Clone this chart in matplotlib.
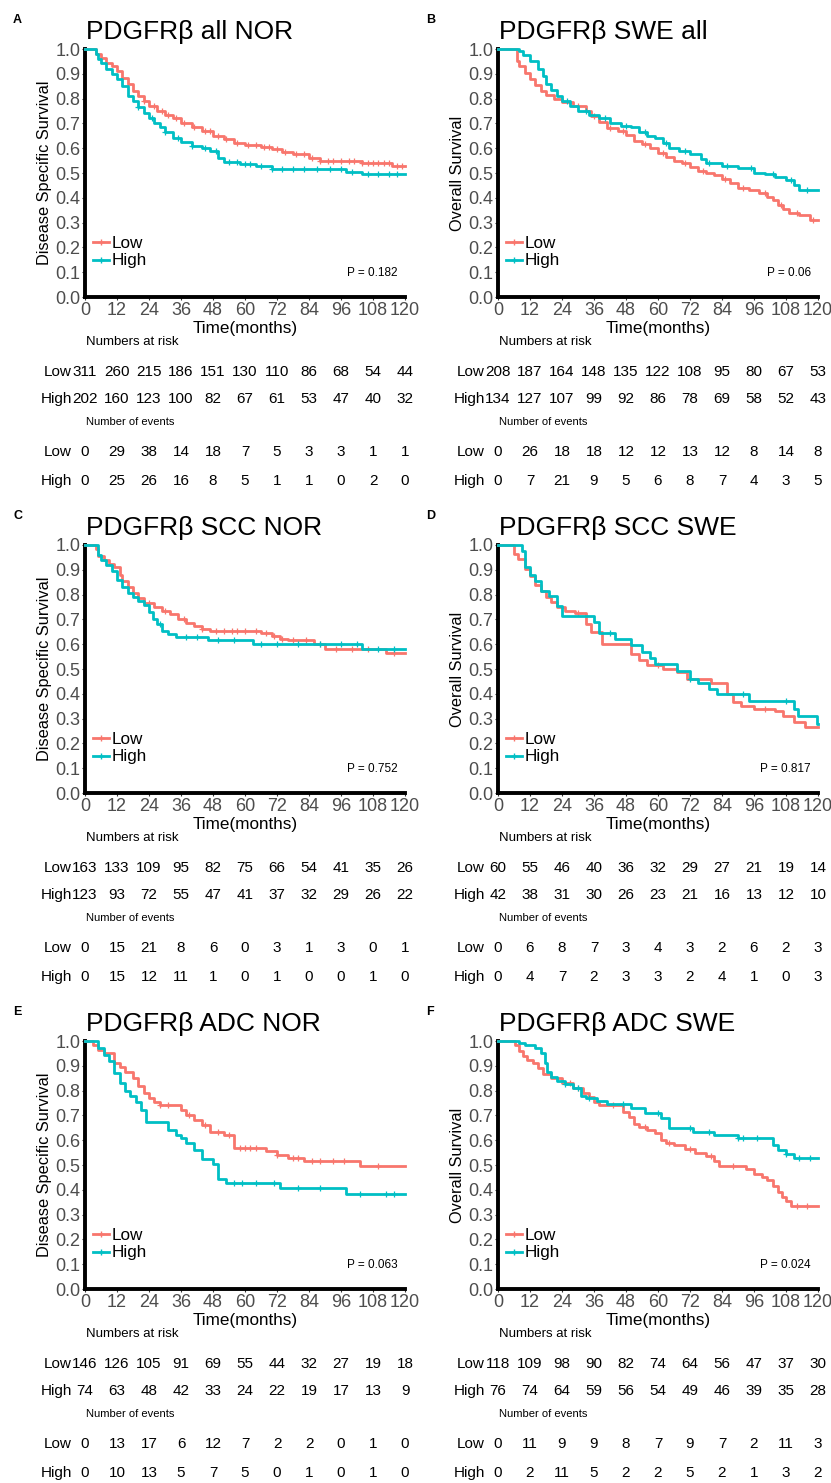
import numpy as np
import matplotlib.pyplot as plt
from matplotlib import transforms
from matplotlib.lines import Line2D

plt.rcParams['font.family'] = ['Liberation Sans', 'DejaVu Sans']

W, H = 831, 1483
RED = '#F8766D'
CYAN = '#00BFC4'

months = [0, 12, 24, 36, 48, 60, 72, 84, 96, 108, 120]

# ---- Panel A: PDGFRb all NOR ----
A_low_t = [0, 4, 6, 8, 10, 12, 14, 16, 18, 20, 22, 24, 27, 30, 33, 36, 40, 44, 48, 52, 56, 60, 66, 70, 74, 78, 84, 88, 96, 104, 115]
A_low_s = [1, .98, .965, .945, .93, .91, .885, .86, .83, .81, .79, .77, .75, .735, .72, .70, .685, .67, .65, .637, .622, .612, .605, .595, .585, .575, .562, .55, .547, .54, .528]
A_high_t = [0, 4, 5, 6, 8, 10, 12, 14, 16, 18, 20, 22, 24, 26, 28, 30, 33, 36, 40, 44, 47, 50, 52, 58, 64, 70, 98, 104]
A_high_s = [1, .98, .96, .945, .92, .90, .88, .85, .81, .79, .765, .74, .72, .70, .685, .665, .64, .625, .61, .60, .59, .56, .545, .535, .528, .515, .505, .495]
A_low_cens = [22, 26, 29, 31, 34, 37, 41, 45, 47, 50, 53, 57, 61, 64, 67, 69, 72, 75, 79, 82, 85, 88, 91, 93, 96, 99, 101, 104, 106, 108, 110, 112, 114, 117, 119]
A_high_cens = [20, 25, 30, 35, 40, 45, 49, 54, 57, 60, 62, 66, 70, 74, 78, 82, 87, 92, 96, 100, 106, 110, 114, 117]
A_risk_low = [311, 260, 215, 186, 151, 130, 110, 86, 68, 54, 44]
A_risk_high = [202, 160, 123, 100, 82, 67, 61, 53, 47, 40, 32]
A_ev_low = [0, 29, 38, 14, 18, 7, 5, 3, 3, 1, 1]
A_ev_high = [0, 25, 26, 16, 8, 5, 1, 1, 0, 2, 0]

# ---- Panel B: PDGFRb SWE all ----
B_low_t = [0, 7, 8, 10, 12, 14, 16, 18, 21, 24, 28, 33, 35, 38, 41, 45, 48, 51, 54, 57, 60, 63, 66, 69, 72, 75, 78, 81, 84, 87, 90, 94, 98, 101, 103, 105, 107, 109, 113, 117]
B_low_s = [1, .95, .93, .905, .88, .855, .83, .815, .80, .785, .77, .75, .73, .705, .68, .67, .655, .63, .615, .60, .58, .565, .55, .54, .525, .51, .50, .49, .475, .46, .44, .43, .42, .405, .39, .37, .355, .34, .33, .31]
B_high_t = [0, 8, 9.5, 12, 15, 17, 18, 20, 22, 24, 27, 30, 34, 38, 42, 46, 50, 53, 56, 59, 62, 64, 68, 72, 76, 78, 84, 90, 96, 100, 104, 108, 111, 113]
B_high_s = [1, .99, .975, .95, .92, .89, .86, .835, .81, .79, .77, .75, .735, .72, .70, .69, .685, .665, .65, .64, .62, .60, .59, .575, .555, .54, .53, .52, .50, .495, .485, .47, .45, .43]
B_low_cens = [30, 36, 42, 47, 55, 62, 70, 77, 85, 92, 100, 106, 112, 118]
B_high_cens = [26, 33, 40, 48, 55, 63, 70, 79, 86, 95, 103, 110, 116]
B_risk_low = [208, 187, 164, 148, 135, 122, 108, 95, 80, 67, 53]
B_risk_high = [134, 127, 107, 99, 92, 86, 78, 69, 58, 52, 43]
B_ev_low = [0, 26, 18, 18, 12, 12, 13, 12, 8, 14, 8]
B_ev_high = [0, 7, 21, 9, 5, 6, 8, 7, 4, 3, 5]

# ---- Panel C: PDGFRb SCC NOR ----
C_low_t = [0, 4, 5, 7, 9, 11, 13, 14, 16, 18, 20, 22, 26, 29, 32, 35, 38, 41, 44, 47, 66, 70, 73, 76, 86, 90, 113]
C_low_s = [1, .985, .955, .94, .925, .91, .88, .855, .83, .805, .785, .765, .75, .735, .72, .70, .685, .675, .66, .655, .645, .635, .62, .615, .60, .58, .565]
C_high_t = [0, 5, 6, 8, 10, 12, 14, 16, 18, 20, 22, 24, 25.5, 27, 29, 31, 34, 46, 63, 104]
C_high_s = [1, .96, .94, .92, .895, .86, .83, .805, .79, .775, .76, .73, .70, .68, .655, .64, .63, .615, .60, .58]
C_low_cens = [24, 30, 37, 44, 49, 52, 55, 57, 60, 64, 68, 71, 74, 78, 83, 88, 94, 100, 106, 116]
C_high_cens = [28, 38, 42, 50, 56, 66, 72, 80, 88, 96, 102, 110, 116]
C_risk_low = [163, 133, 109, 95, 82, 75, 66, 54, 41, 35, 26]
C_risk_high = [123, 93, 72, 55, 47, 41, 37, 32, 29, 26, 22]
C_ev_low = [0, 15, 21, 8, 6, 0, 3, 1, 3, 0, 1]
C_ev_high = [0, 15, 12, 11, 1, 0, 1, 0, 0, 1, 0]

# ---- Panel D: PDGFRb SCC SWE ----
D_low_t = [0, 6, 7.5, 10, 12, 14, 16, 18, 20, 22, 25, 29, 33, 35, 39, 50, 53, 56, 62, 67, 71, 80, 86, 88, 91, 96, 104, 107, 111, 115]
D_low_s = [1, .965, .945, .905, .875, .84, .815, .79, .77, .75, .735, .725, .68, .65, .60, .56, .535, .515, .50, .487, .46, .445, .40, .365, .35, .338, .33, .31, .285, .265]
D_high_t = [0, 9, 10, 12, 14, 16, 19, 22, 24, 36, 38, 44, 50, 54, 57, 59, 67, 72, 75, 79, 82, 94, 111, 112.5, 119.5]
D_high_s = [1, .975, .91, .88, .855, .815, .795, .755, .715, .69, .645, .62, .595, .57, .545, .52, .49, .46, .445, .42, .40, .37, .34, .31, .28]
D_low_cens = [30, 60, 100]
D_high_cens = [42, 72, 92, 108]
D_risk_low = [60, 55, 46, 40, 36, 32, 29, 27, 21, 19, 14]
D_risk_high = [42, 38, 31, 30, 26, 23, 21, 16, 13, 12, 10]
D_ev_low = [0, 6, 8, 7, 3, 4, 3, 2, 6, 2, 3]
D_ev_high = [0, 4, 7, 2, 3, 3, 2, 4, 1, 0, 3]

# ---- Panel E: PDGFRb ADC NOR ----
E_low_t = [0, 3, 5, 7, 11, 13, 15, 18, 20, 22, 24, 26, 28, 36, 38, 41, 44, 47, 52, 56, 68, 72, 76, 82, 103]
E_low_s = [1, .985, .965, .95, .91, .895, .875, .85, .82, .79, .77, .755, .742, .72, .70, .68, .66, .635, .62, .567, .555, .54, .527, .516, .494]
E_high_t = [0, 5, 7, 9, 11, 13, 15, 17, 19, 21, 23, 31, 34, 36, 38, 41, 44, 48, 50, 53, 73, 98]
E_high_s = [1, .97, .944, .92, .87, .83, .80, .78, .755, .72, .675, .64, .62, .61, .59, .56, .525, .505, .445, .426, .406, .382]
E_low_cens = [28, 31, 39, 45, 50, 54, 58, 60, 62, 64, 72, 78, 80, 85, 88, 93, 97, 110]
E_high_cens = [56, 59, 64, 71, 80, 88, 103, 113, 116]
E_risk_low = [146, 126, 105, 91, 69, 55, 44, 32, 27, 19, 18]
E_risk_high = [74, 63, 48, 42, 33, 24, 22, 19, 17, 13, 9]
E_ev_low = [0, 13, 17, 6, 12, 7, 2, 2, 0, 1, 0]
E_ev_high = [0, 10, 13, 5, 7, 5, 0, 1, 0, 1, 0]

# ---- Panel F: PDGFRb ADC SWE ----
F_low_t = [0, 6.5, 8, 9.5, 11, 13, 15, 17, 20, 24, 28, 32, 34, 36, 38, 47, 49, 51, 53, 56, 59, 61, 63, 66, 70, 74, 78, 81, 83, 93, 96, 99, 101, 103, 105, 106.5, 108, 110]
F_low_s = [1, .985, .96, .94, .925, .91, .89, .865, .85, .83, .81, .79, .775, .755, .74, .715, .695, .665, .655, .64, .63, .60, .59, .58, .565, .55, .535, .515, .495, .485, .465, .45, .44, .415, .39, .37, .355, .335]
F_high_t = [0, 8, 10, 14, 16, 17.5, 18.5, 20, 22, 25, 28, 31, 33, 37, 41, 50, 55, 61, 64, 73, 81, 90, 103, 105, 108, 111]
F_high_s = [1, .99, .985, .97, .95, .91, .875, .855, .84, .825, .81, .78, .77, .76, .745, .73, .71, .69, .65, .635, .62, .608, .58, .56, .545, .527]
F_low_cens = [27, 30, 43, 55, 64, 72, 80, 88, 112, 116]
F_high_cens = [25, 30, 34, 47, 60, 72, 79, 90, 92, 97, 108, 113, 117]
F_risk_low = [118, 109, 98, 90, 82, 74, 64, 56, 47, 37, 30]
F_risk_high = [76, 74, 64, 59, 56, 54, 49, 46, 39, 35, 28]
F_ev_low = [0, 11, 9, 9, 8, 7, 9, 7, 2, 11, 3]
F_ev_high = [0, 2, 11, 5, 2, 2, 5, 2, 1, 3, 2]

fig = plt.figure(figsize=(W / 100, H / 100), dpi=100)


def fy(y):
    return 1 - y / H


def draw_curve(ax, t, s, cens, color):
    tt = list(t) + [120]
    ss = list(s) + [s[-1]]
    ax.step(tt, ss, where='post', color=color, lw=2.0, clip_on=False, zorder=3)
    idx = np.searchsorted(np.array(t), np.array(cens), side='right') - 1
    ax.plot(cens, np.array(s)[idx], '+', color=color, ms=4.5, mew=0.9, zorder=3)


def panel(left, top, letter, title, ylabel, low, high, pval, risk, events):
    bottom = top + 248
    ax = fig.add_axes([left / W, 1 - bottom / H, 320 / W, 248 / H])
    draw_curve(ax, *low, RED)
    draw_curve(ax, *high, CYAN)
    ax.set_xlim(0, 120)
    ax.set_ylim(0, 1)
    ax.set_xticks(months)
    ax.set_yticks(np.arange(0, 1.01, 0.1))
    ax.set_yticklabels([f'{v:.1f}' for v in np.arange(0, 1.01, 0.1)])
    for sp in ['top', 'right']:
        ax.spines[sp].set_visible(False)
    for sp in ['left', 'bottom']:
        ax.spines[sp].set_linewidth(2.8)
        ax.spines[sp].set_color('black')
    ax.tick_params(axis='both', length=2.5, width=0.8, color='#333333',
                   labelcolor='#4D4D4D', labelsize=13, pad=0.8)
    ax.text(-0.125, 0.5, ylabel, rotation=90, ha='center', va='center',
            fontsize=11.8, transform=ax.transAxes)
    handles = [Line2D([], [], color=RED, lw=2, marker='+', ms=5, mew=1),
               Line2D([], [], color=CYAN, lw=2, marker='+', ms=5, mew=1)]
    ax.legend(handles, ['Low', 'High'], loc='lower left', bbox_to_anchor=(0.025, 0.115),
              frameon=False, handlelength=0.95, handletextpad=0.12, labelspacing=0.15,
              borderaxespad=0, borderpad=0, fontsize=12.3, numpoints=1)
    ax.text(0.978, 0.097, f'P = {pval}', ha='right', va='center', fontsize=8.5,
            transform=ax.transAxes)

    fig.text((left - 72) / W, fy(top - 26), letter, fontsize=9, fontweight='bold', va='baseline')
    fig.text((left + 1) / W, fy(top - 10), title, fontsize=19, va='baseline')
    fig.text((left + 160) / W, fy(bottom + 31), 'Time(months)', fontsize=12.3,
             ha='center', va='center')
    fig.text((left + 1) / W, fy(bottom + 45), 'Numbers at risk', fontsize=9.5, va='center')
    fig.text((left + 1) / W, fy(bottom + 125), 'Number of events', fontsize=8, va='center')

    trans = transforms.blended_transform_factory(ax.transData, fig.transFigure)
    rows = [(risk[0], 75, 'Low'), (risk[1], 102, 'High'),
            (events[0], 155, 'Low'), (events[1], 184, 'High')]
    for vals, dy, name in rows:
        fig.text((left - 13) / W, fy(bottom + dy), name, fontsize=11, ha='right', va='center')
        for m, v in zip(months, vals):
            fig.text(m, fy(bottom + dy), str(v), fontsize=11, ha='center', va='center',
                     transform=trans)


panel(85, 49, 'A', 'PDGFRβ all NOR', 'Disease Specific Survival',
      (A_low_t, A_low_s, A_low_cens), (A_high_t, A_high_s, A_high_cens), '0.182',
      (A_risk_low, A_risk_high), (A_ev_low, A_ev_high))
panel(498, 49, 'B', 'PDGFRβ SWE all', 'Overall Survival',
      (B_low_t, B_low_s, B_low_cens), (B_high_t, B_high_s, B_high_cens), '0.06',
      (B_risk_low, B_risk_high), (B_ev_low, B_ev_high))
panel(85, 545, 'C', 'PDGFRβ SCC NOR', 'Disease Specific Survival',
      (C_low_t, C_low_s, C_low_cens), (C_high_t, C_high_s, C_high_cens), '0.752',
      (C_risk_low, C_risk_high), (C_ev_low, C_ev_high))
panel(498, 545, 'D', 'PDGFRβ SCC SWE', 'Overall Survival',
      (D_low_t, D_low_s, D_low_cens), (D_high_t, D_high_s, D_high_cens), '0.817',
      (D_risk_low, D_risk_high), (D_ev_low, D_ev_high))
panel(85, 1041, 'E', 'PDGFRβ ADC NOR', 'Disease Specific Survival',
      (E_low_t, E_low_s, E_low_cens), (E_high_t, E_high_s, E_high_cens), '0.063',
      (E_risk_low, E_risk_high), (E_ev_low, E_ev_high))
panel(498, 1041, 'F', 'PDGFRβ ADC SWE', 'Overall Survival',
      (F_low_t, F_low_s, F_low_cens), (F_high_t, F_high_s, F_high_cens), '0.024',
      (F_risk_low, F_risk_high), (F_ev_low, F_ev_high))

fig.savefig('out.png', dpi=100)
